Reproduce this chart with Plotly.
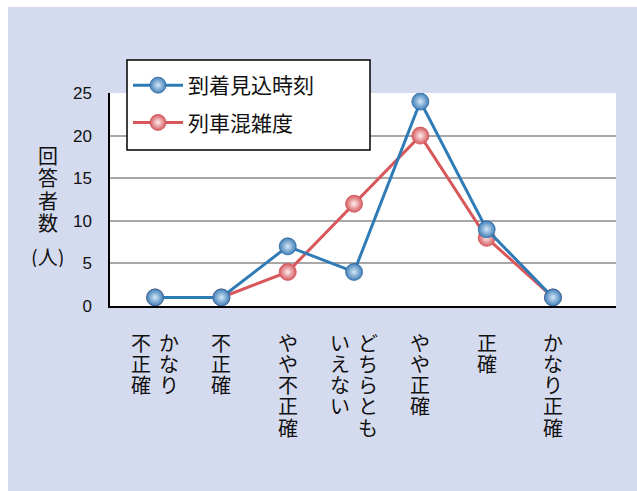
import plotly.graph_objects as go

# Survey answers on the accuracy of each piece of information
categories = ["かなり\n不正確", "不正確", "やや不正確", "どちらとも\nいえない", "やや正確", "正確", "かなり正確"]
arrival_estimate = [1, 1, 7, 4, 24, 9, 1]   # 到着見込時刻
train_congestion = [1, 1, 4, 12, 20, 8, 1]  # 列車混雑度
y_ticks = [0, 5, 10, 15, 20, 25]
y_title_chars = ["回", "答", "者", "数", "(人)"]

W, H = 637, 491
L, R, T, B = 110, 21, 93, 185
PW, PH = W - L - R, H - T - B

JP = "Noto Sans CJK JP, Noto Sans, sans-serif"
BG = "#d5dbef"
BLUE = "#2f7bb6"
RED = "#d8575b"


def px_x(px):
    return (px - L) / PW


def px_y(py):
    return (T + PH - py) / PH


x_idx = list(range(len(categories)))

fig = go.Figure()
fig.add_trace(go.Scatter(
    x=x_idx, y=train_congestion, name="列車混雑度", mode="lines+markers",
    line=dict(color=RED, width=3),
    marker=dict(size=17, color="#d65a5e",
                gradient=dict(type="radial", color="#fdeeee"),
                line=dict(color="#cf5257", width=0.8)),
    legendrank=2, legendgroup="b",
))
fig.add_trace(go.Scatter(
    x=x_idx, y=arrival_estimate, name="到着見込時刻", mode="lines+markers",
    line=dict(color=BLUE, width=3),
    marker=dict(size=17, color="#3f7fb9",
                gradient=dict(type="radial", color="#d6e7f7"),
                line=dict(color="#2d679e", width=0.8)),
    legendrank=1, legendgroup="a",
))

shapes = [
    # lavender chart area, with a thin white strip on the top and left
    dict(type="rect", xref="paper", yref="paper", layer="below",
         x0=px_x(8), x1=px_x(W + 2), y0=px_y(H + 2), y1=px_y(7),
         fillcolor=BG, line=dict(width=0)),
    # white plotting area
    dict(type="rect", xref="paper", yref="paper", layer="below",
         x0=0, x1=1, y0=0, y1=1, fillcolor="white", line=dict(width=0)),
    # legend frame
    dict(type="rect", xref="paper", yref="paper", layer="above",
         x0=px_x(127), x1=px_x(370), y0=px_y(150), y1=px_y(60),
         fillcolor="white", line=dict(color="black", width=1.5)),
]

annotations = []
# vertical category labels, columns read right to left
CH = 21.3
for i, cat in enumerate(categories):
    cols = cat.split("\n")
    n = len(cols)
    for c, col in enumerate(cols):
        shift = (n - 1) * 14 - c * 28 if n > 1 else 0
        for k, ch in enumerate(col):
            annotations.append(dict(
                x=i, xref="x", y=px_y(342 + k * CH), yref="paper",
                text=ch, showarrow=False, xshift=shift,
                xanchor="center", yanchor="middle", height=21,
                font=dict(family=JP, size=20, color="#111"),
            ))

# vertical y-axis title
for k, ch in enumerate(y_title_chars):
    cy = 155 + k * 22.3 + (12 if k == len(y_title_chars) - 1 else 0)
    annotations.append(dict(
        x=px_x(48), xref="paper", y=px_y(cy), yref="paper",
        text=ch, showarrow=False, xanchor="center", yanchor="middle",
        height=22,
        font=dict(family=JP, size=20, color="#111"),
    ))

fig.update_layout(
    width=W, height=H,
    margin=dict(l=L, r=R, t=T, b=B, pad=0),
    paper_bgcolor="white", plot_bgcolor="white",
    shapes=shapes, annotations=annotations,
    showlegend=True,
    legend=dict(
        x=px_x(128), y=px_y(65), xanchor="left", yanchor="top",
        bgcolor="rgba(0,0,0,0)", borderwidth=0,
        font=dict(family=JP, size=21, color="#111"),
        itemwidth=50, traceorder="grouped", tracegroupgap=7,
    ),
    xaxis=dict(
        range=[-0.68, 6.95], showticklabels=False, showgrid=False,
        zeroline=False, showline=True, linecolor="black", linewidth=1.5,
        ticks="", fixedrange=True,
    ),
    yaxis=dict(
        range=[0, 25], tickvals=y_ticks, ticktext=[str(v) for v in y_ticks],
        showgrid=True, gridcolor="#a8a8a8", gridwidth=1.5,
        zeroline=False, showline=True, linecolor="black", linewidth=1.5,
        ticks="outside", ticklen=0, ticklabelstandoff=13,
        tickfont=dict(family="Liberation Sans, Arial, sans-serif", size=17, color="#111"),
    ),
)

fig.write_html("out.html")
